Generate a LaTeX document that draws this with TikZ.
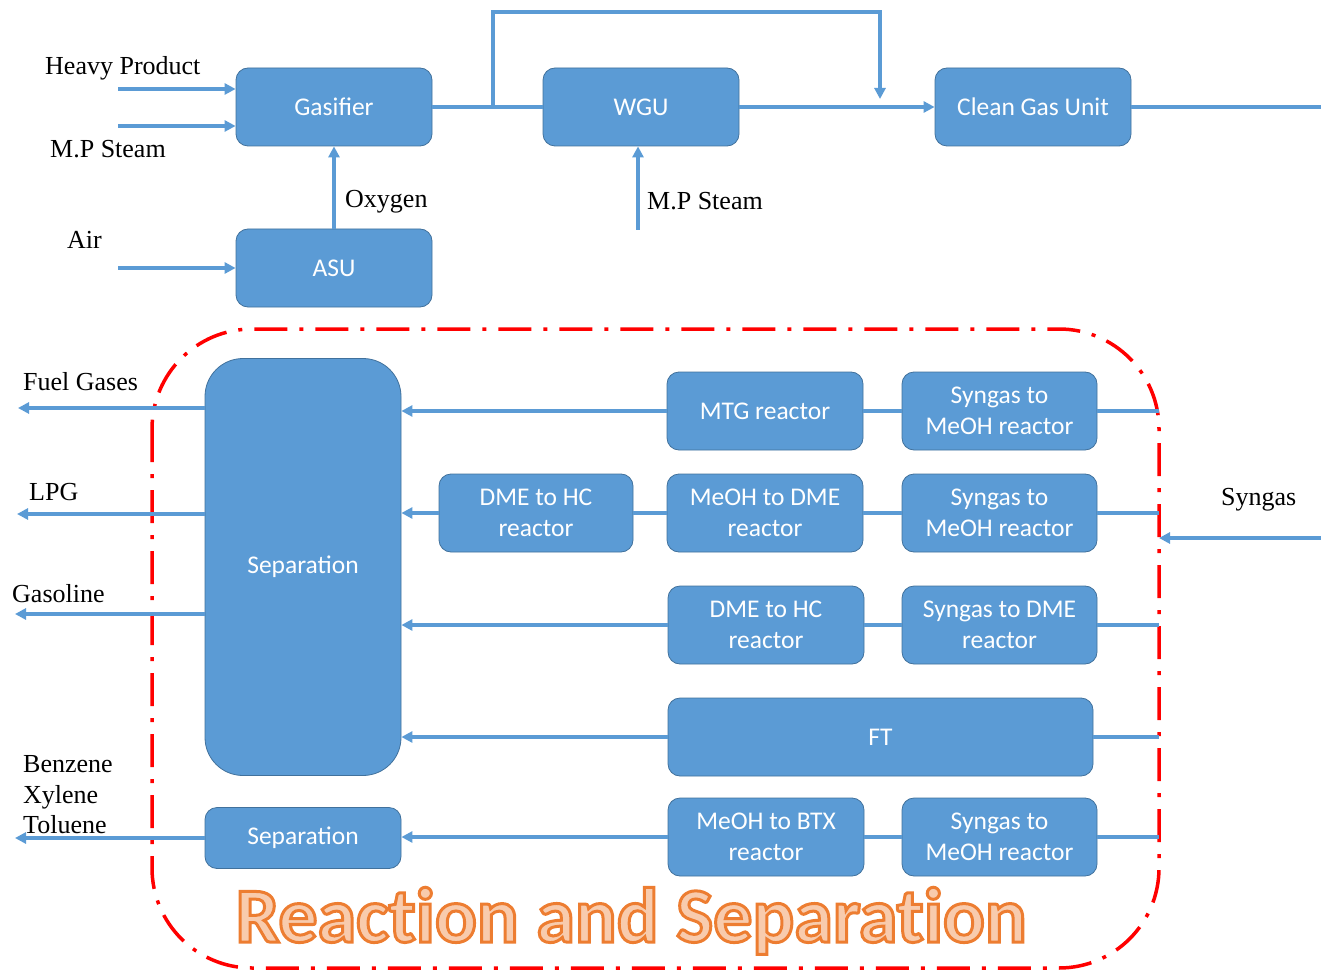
\documentclass[tikz,border=0pt]{standalone}
\usepackage{fontspec}
\usetikzlibrary{arrows.meta}
\newfontfamily\calfont{Carlito}
\newfontfamily\calboldfont[Ligatures=NoCommon]{Carlito}
\newfontfamily\tnrfont{Liberation Serif}
\definecolor{boxblue}{HTML}{5B9BD5}
\definecolor{boxedge}{HTML}{41719C}
\definecolor{outorange}{HTML}{ED7D31}
\definecolor{fillorange}{HTML}{F8CBAD}
\definecolor{dashred}{HTML}{FF0000}
\tikzset{
 box/.style={rectangle, rounded corners=12pt, fill=boxblue, draw=boxedge, line width=0.8pt, text=white, font=\calfont\fontsize{25.5}{31}\selectfont, align=center, inner sep=0pt, minimum width=196pt, minimum height=78pt},
 flow/.style={draw=boxblue, line width=3.2pt},
 flowarr/.style={flow, -{Triangle[length=11pt,width=11pt]}},
 lbl/.style={font=\tnrfont\fontsize{26}{31}\selectfont, anchor=base west, inner sep=0pt, text=black},
 region/.style={draw=dashred, line width=3.5pt, rounded corners=100pt, dash pattern=on 33pt off 12pt on 4pt off 12pt},
 bigtxt/.style={font=\calboldfont\bfseries\fontsize{78}{90}\selectfont, anchor=base, inner sep=0pt},
}
\begin{document}
\begin{tikzpicture}[x=1pt,y=-1pt]
\useasboundingbox (0,0) rectangle (1321,973);

% dashed region
\draw[region] (152,329) rectangle (1159,968);
\coordinate (bdr) at (1159,0);

% ---- top part ----
\node[box] (gas) at (334,107) {Gasifier};
\node[box] (asu) at (334,268) {ASU};
\node[box] (wgu) at (641,107) {WGU};
\node[box] (cgu) at (1033,107) {Clean Gas Unit};

\coordinate (hp) at (118,89);
\coordinate (mps) at (118,126);
\coordinate (air) at (118,268);
\coordinate (bpA) at (493,106);
\coordinate (bpT) at (880,12);
\coordinate (bpE) at (880,99);
\coordinate (cgout) at (1321,107);
\coordinate (st2) at (638,230);

\draw[flowarr] (hp) -- (hp -| gas.west);
\draw[flowarr] (mps) -- (mps -| gas.west);
\draw[flowarr] (air) -- (air -| asu.west);
\draw[flowarr] (asu.north) -- (gas.south);
\draw[flow] (gas.east) -- (wgu.west);
\draw[flowarr] (bpA) |- (bpT) -- (bpE);
\draw[flowarr] (wgu.east) -- (cgu.west);
\draw[flow] (cgu.east) -- (cgout);
\draw[flowarr] (st2) -- (st2 |- wgu.south);

\node[lbl] (lhp) at (45,75) {Heavy Product};
\node[lbl] (lmps) at (50,158) {M.P Steam};
\node[lbl] (lair) at (67,249) {Air};
\node[lbl] (loxy) at (345,208) {Oxygen};
\node[lbl] (lst2) at (647,210) {M.P Steam};

% ---- reaction and separation ----
\node[box, minimum height=417pt, rounded corners=38pt] (sepbig) at (303,567) {Separation};
\node[box, minimum height=61pt] (sepsm) at (303,838) {Separation};

\node[box] (mtg) at (765,411) {MTG reactor};
\node[box, minimum width=195pt] (sm1) at (999.5,411) {Syngas to\\MeOH reactor};

\node[box, minimum width=194pt] (dme1) at (536,513) {DME to HC\\reactor};
\node[box] (m2d) at (765,513) {MeOH to DME\\reactor};
\node[box, minimum width=195pt] (sm2) at (999.5,513) {Syngas to\\MeOH reactor};

\node[box] (dme2) at (766,625) {DME to HC\\reactor};
\node[box, minimum width=195pt] (s2d) at (999.5,625) {Syngas to DME\\reactor};

\node[box, minimum width=425pt] (ft) at (880.5,737) {FT};

\node[box] (btx) at (766,837) {MeOH to BTX\\reactor};
\node[box, minimum width=195pt] (sm3) at (999.5,837) {Syngas to\\MeOH reactor};

% row connectors
\draw[flow] (sm1.east) -- (sm1.east -| bdr);
\draw[flow] (sm1.west) -- (mtg.east);
\draw[flowarr] (mtg.west) -- (mtg.west -| sepbig.east);

\draw[flow] (sm2.east) -- (sm2.east -| bdr);
\draw[flow] (sm2.west) -- (m2d.east);
\draw[flow] (m2d.west) -- (dme1.east);
\draw[flowarr] (dme1.west) -- (dme1.west -| sepbig.east);

\draw[flow] (s2d.east) -- (s2d.east -| bdr);
\draw[flow] (s2d.west) -- (dme2.east);
\draw[flowarr] (dme2.west) -- (dme2.west -| sepbig.east);

\draw[flow] (ft.east) -- (ft.east -| bdr);
\draw[flowarr] (ft.west) -- (ft.west -| sepbig.east);

\draw[flow] (sm3.east) -- (sm3.east -| bdr);
\draw[flow] (sm3.west) -- (btx.east);
\draw[flowarr] (btx.west) -- (btx.west -| sepsm.east);

% syngas input
\coordinate (sgin) at (1321,538);
\draw[flowarr] (sgin) -- (sgin -| bdr);
\node[lbl] (lsg) at (1221,505) {Syngas};

% outputs
\coordinate (fg) at (18,408);
\coordinate (lpg) at (17,514);
\coordinate (gsl) at (15,614);
\coordinate (bxt) at (15,838);
\draw[flowarr] (fg -| sepbig.west) -- (fg);
\draw[flowarr] (lpg -| sepbig.west) -- (lpg);
\draw[flowarr] (gsl -| sepbig.west) -- (gsl);
\draw[flowarr] (bxt -| sepsm.west) -- (bxt);

\node[lbl] (lfg) at (23,390) {Fuel Gases};
\node[lbl] (llpg) at (29,500) {LPG};
\node[lbl] (lgsl) at (12,602) {Gasoline};
\node[lbl] (lben) at (23,772) {Benzene};
\node[lbl] (lxyl) at (23,803) {Xylene};
\node[lbl] (ltol) at (23,833) {Toluene};

% big title, filled and outlined (text render mode 2)
\node[bigtxt, text=fillorange] (title) at (631,942) {\special{pdf:literal direct 2 Tr 3 w 0.929 0.490 0.192 RG}Reaction and Separation\special{pdf:literal direct 0 Tr}};
\end{tikzpicture}
\end{document}
